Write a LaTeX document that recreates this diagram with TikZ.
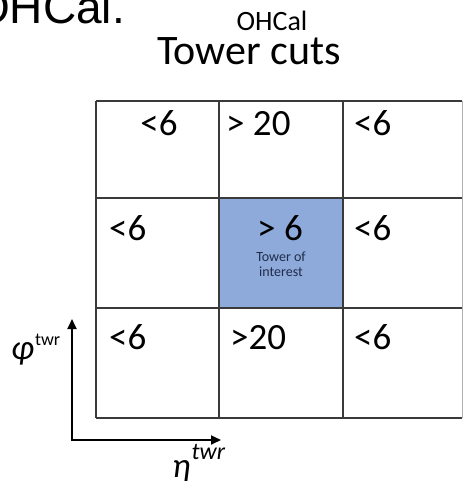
\documentclass[tikz,border=0pt]{standalone}
\usepackage{fontspec}
\setmainfont{Carlito}
\newfontfamily\arialf{Liberation Sans}
\usetikzlibrary{arrows.meta}
\definecolor{gridc}{HTML}{3A3A3A}
\definecolor{hilite}{HTML}{8EAADB}
\definecolor{smalltxt}{HTML}{1F2D4A}
\tikzset{
  gridline/.style={draw=gridc, line width=1.6pt},
  celltxt/.style={inner sep=0pt, font=\fontsize{37}{40}\selectfont},
  axisarrow/.style={draw=black, line width=1.8pt, -{Triangle[length=10pt,width=9pt]}},
}
\begin{document}
\begin{tikzpicture}[x=1pt,y=-1pt]
\useasboundingbox (0,0) rectangle (464,481);
% headings
\node[anchor=base west, inner sep=0pt, font=\arialf\fontsize{46}{50}\selectfont] (big) at (-26,24) {OHCal.};
\node[anchor=base, inner sep=0pt, font=\fontsize{28}{30}\selectfont] (sub) at (272,31) {OHCal};
\node[anchor=base, inner sep=0pt, font=\fontsize{42}{46}\selectfont] (title) at (249,65) {Tower cuts};
% highlighted cell
\fill[hilite] (219,198) rectangle (343,308);
% grid
\draw[gridline] (96,101) -- (462,101);
\draw[gridline] (96,198) -- (462,198);
\draw[gridline] (96,308) -- (462,308);
\draw[gridline] (96,418) -- (462,418);
\draw[gridline] (96,101) -- (96,418);
\draw[gridline] (219,101) -- (219,418);
\draw[gridline] (343,101) -- (343,418);
\draw[draw=gray!60, line width=0.8pt] (462,101) -- (462,418);
% cell texts
\node[celltxt, anchor=base] (c11) at (159,136) {<6};
\node[celltxt, anchor=base west] (c12) at (226,136) {> 20};
\node[celltxt, anchor=base west] (c13) at (354,136) {<6};
\node[celltxt, anchor=base west] (c21) at (109,240) {<6};
\node[celltxt, anchor=base] (c22) at (280,240) {> 6};
\node[anchor=north, inner sep=0pt, align=center, text=smalltxt, font=\fontsize{14}{15}\selectfont] (toi) at (281,252) {Tower of\\interest};
\node[celltxt, anchor=base west] (c23) at (354,240) {<6};
\node[celltxt, anchor=base west] (c31) at (109,349) {<6};
\node[celltxt, anchor=base west] (c32) at (230,349) {>20};
\node[celltxt, anchor=base west] (c33) at (354,349) {<6};
% axes
\coordinate (origin) at (72,440);
\coordinate (ytip) at (72,319);
\coordinate (xtip) at (221,440);
\draw[axisarrow] (origin) -- (ytip);
\draw[axisarrow] ([xshift=-0.9pt]origin) -- (xtip);
\node[anchor=base west, inner sep=0pt, font=\fontsize{35}{36}\selectfont] (phi) at (11,359) {\textit{φ}\kern1pt\raisebox{14pt}{\fontsize{18}{20}\selectfont twr}};
\node[anchor=base west, inner sep=0pt, font=\fontsize{35}{36}\selectfont] (eta) at (172,477) {\textit{η}\kern1pt\raisebox{18pt}{\fontsize{24}{26}\selectfont\itshape twr}};
\end{tikzpicture}
\end{document}
